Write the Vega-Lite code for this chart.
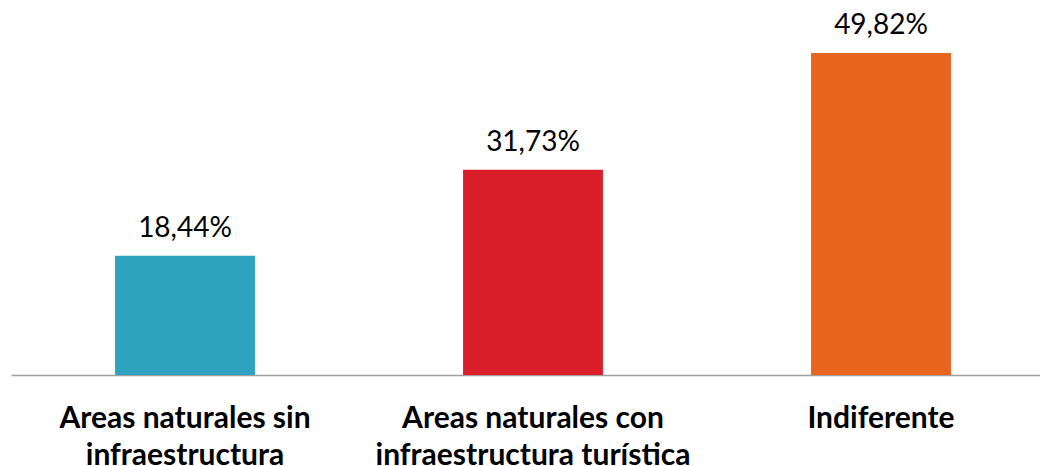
{
  "$schema": "https://vega.github.io/schema/vega-lite/v6.json",
  "width": 1044,
  "height": 375,
  "autosize": {"type": "none"},
  "padding": {"left": 11, "top": 0, "right": 0, "bottom": 91},
  "background": "white",
  "config": {"view": {"stroke": null}},
  "data": {
    "values": [
      {"categoria": "Areas naturales sin infraestructura", "valor": 18.44, "etiqueta": "18,44%"},
      {"categoria": "Areas naturales con infraestructura turística", "valor": 31.73, "etiqueta": "31,73%"},
      {"categoria": "Indiferente", "valor": 49.82, "etiqueta": "49,82%"}
    ]
  },
  "encoding": {
    "x": {
      "field": "categoria",
      "type": "nominal",
      "sort": null,
      "scale": {"paddingInner": 0.598, "paddingOuter": 0.299},
      "axis": {
        "title": null,
        "labelAngle": 0,
        "ticks": false,
        "domainColor": "#a0a0a0",
        "domainWidth": 1.5,
        "labelFont": "Lato",
        "labelFontWeight": "bold",
        "labelFontSize": 30,
        "labelColor": "#000000",
        "labelPadding": 28,
        "labelLineHeight": 37,
        "labelLimit": 0,
        "labelBaseline": "top",
        "labelExpr": "datum.value == 'Areas naturales sin infraestructura' ? ['Areas naturales sin', 'infraestructura'] : datum.value == 'Areas naturales con infraestructura turística' ? ['Areas naturales con', 'infraestructura turística'] : datum.value"
      }
    },
    "y": {
      "field": "valor",
      "type": "quantitative",
      "scale": {"domain": [0, 58], "nice": false},
      "axis": null
    }
  },
  "layer": [
    {
      "mark": {"type": "bar"},
      "encoding": {
        "color": {
          "field": "categoria",
          "type": "nominal",
          "sort": null,
          "scale": {"range": ["#2EA3BF", "#DA1F2A", "#E8641F"]},
          "legend": null
        }
      }
    },
    {
      "mark": {"type": "text", "baseline": "alphabetic", "dy": -19, "font": "Lato", "fontSize": 28, "color": "#000000"},
      "encoding": {"text": {"field": "etiqueta"}}
    }
  ]
}
